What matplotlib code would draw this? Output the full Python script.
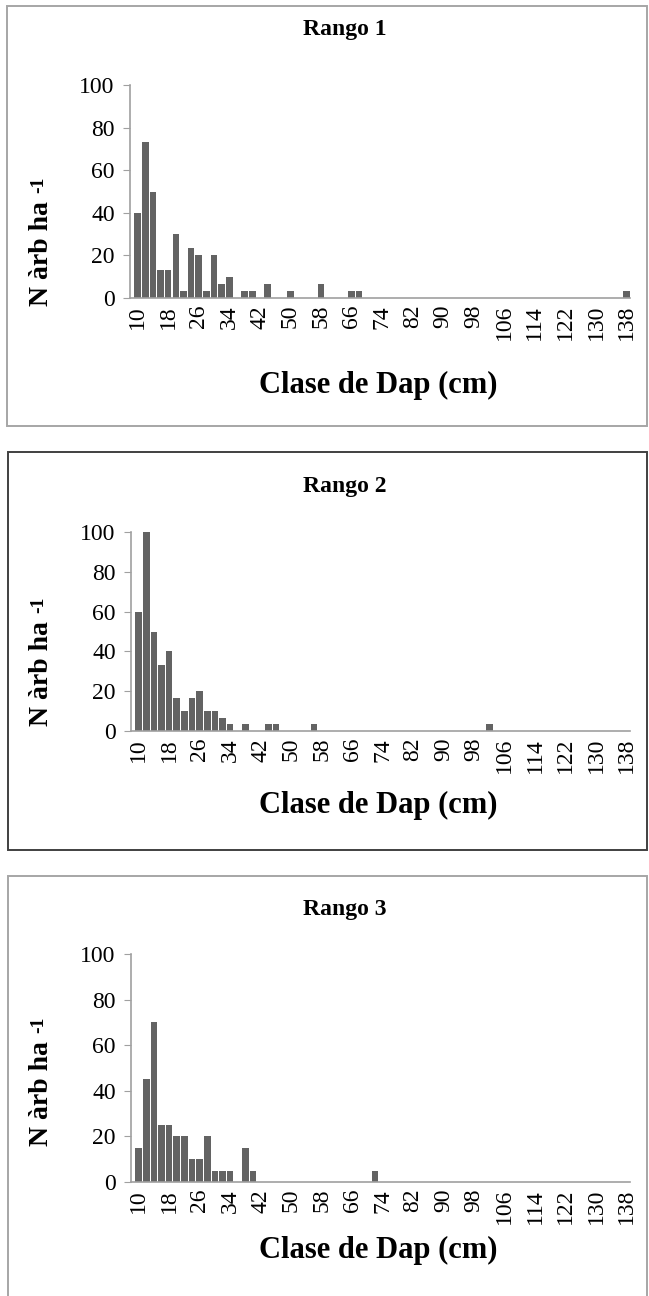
import numpy as np
import matplotlib
matplotlib.use("Agg")
import matplotlib.pyplot as plt
from matplotlib.patches import Rectangle

plt.rcParams["font.family"] = ["Liberation Serif", "DejaVu Serif"]

# diameter classes, 10..138 cm every 2 cm
clases = list(range(10, 140, 2))

# N arb/ha per class (non-zero classes only)
rango1 = {10: 40, 12: 73.3, 14: 50, 16: 13.3, 18: 13.3, 20: 30, 22: 3.3, 24: 23.3,
          26: 20, 28: 3.3, 30: 20, 32: 6.7, 34: 10, 38: 3.3, 40: 3.3, 44: 6.7,
          50: 3.3, 58: 6.7, 66: 3.3, 68: 3.3, 138: 3.3}
rango2 = {10: 60, 12: 100, 14: 50, 16: 33.3, 18: 40, 20: 16.7, 22: 10, 24: 16.7,
          26: 20, 28: 10, 30: 10, 32: 6.7, 34: 3.3, 38: 3.3, 44: 3.3, 46: 3.3,
          56: 3.3, 102: 3.3}
rango3 = {10: 15, 12: 45, 14: 70, 16: 25, 18: 25, 20: 20, 22: 20, 24: 10,
          26: 10, 28: 20, 30: 5, 32: 5, 34: 5, 38: 15, 40: 5, 72: 5}

titulos = ["Rango 1", "Rango 2", "Rango 3"]
series = [rango1, rango2, rango3]

W, H = 649, 1296
fig = plt.figure(figsize=(W / 100, H / 100), dpi=100)

def px(x0, y0, x1, y1):
    # pixel box (top-left origin) -> figure fraction [l, b, w, h]
    return [x0 / W, 1 - y1 / H, (x1 - x0) / W, (y1 - y0) / H]

# panel frames: (x0, y0, x1, y1, colour)
marcos = [(7, 6, 647, 426, "#a6a6a6"), (8, 452, 647, 850, "#404040"),
          (8, 876, 647, 1300, "#a6a6a6")]
# axes boxes: (x0, top, x1, bottom)
ejes = [(130, 85, 630, 298), (131, 532, 630, 731), (131, 954, 630, 1182)]
tit_y = [30, 487, 910]
xlab_y = [385, 805, 1250]
ylab_y = [254, 674, 1094]   # centre of "N àrb ha"

x = np.arange(len(clases))
ylabs = []
for i in range(3):
    fx0, fy0, fx1, fy1, col = marcos[i]
    fig.patches.append(Rectangle((fx0 / W, 1 - fy1 / H), (fx1 - fx0) / W, (fy1 - fy0) / H,
                                 transform=fig.transFigure, fill=False, ec=col, lw=1.4))
    ax = fig.add_axes(px(ejes[i][0], ejes[i][1], ejes[i][2], ejes[i][3]))
    vals = [series[i].get(c, 0) for c in clases]
    ax.bar(x, vals, width=0.86, color="#636363")
    ax.set_xlim(-1.0, len(clases) - 0.55)
    ax.set_ylim(0, 100)
    ax.set_yticks(range(0, 101, 20))
    ax.set_xticks(x[::4])
    ax.set_xticklabels([str(c) for c in clases[::4]], rotation=90)
    for s in ["top", "right"]:
        ax.spines[s].set_visible(False)
    for s in ["left", "bottom"]:
        ax.spines[s].set_color("#a0a0a0")
        ax.spines[s].set_linewidth(1.2)
    ax.tick_params(axis="y", length=5, color="#a0a0a0", labelsize=17, pad=6)
    ax.tick_params(axis="x", length=0, labelsize=17, pad=5)
    fig.text(345 / W, 1 - tit_y[i] / H, titulos[i], ha="center", va="center",
             fontsize=17, fontweight="bold")
    fig.text(378 / W, 1 - xlab_y[i] / H, "Clase de Dap (cm)", ha="center", va="center",
             fontsize=22, fontweight="bold")
    ylabs.append(fig.text(42 / W, 1 - ylab_y[i] / H, "N àrb ha", ha="center", va="center",
                          rotation=90, fontsize=20, fontweight="bold"))

# superscript "-1" above each rotated y label, after a space
fig.canvas.draw()
for t in ylabs:
    bb = t.get_window_extent()
    fig.text((bb.x0 + 1) / W, (bb.y1 + 9) / H, "-1", ha="left", va="bottom",
             rotation=90, fontsize=14, fontweight="bold")

fig.savefig("out.png", dpi=100)
